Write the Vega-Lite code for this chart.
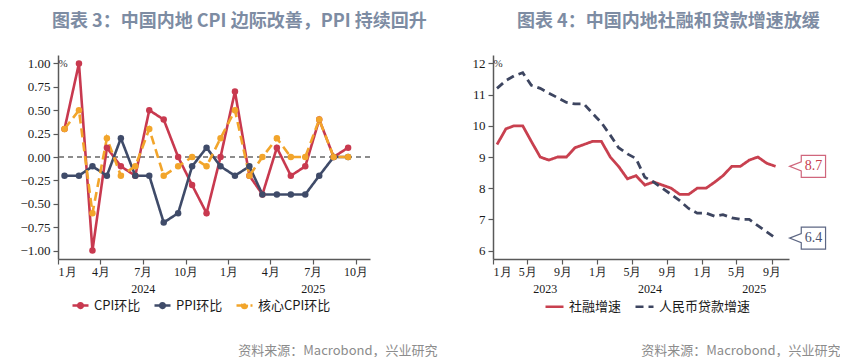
{
  "$schema": "https://vega.github.io/schema/vega-lite/v6.json",
  "background": "white",
  "autosize": {"type": "pad"},
  "padding": {"left": 0, "top": 13, "right": 0, "bottom": 0},
  "bounds": "flush",
  "spacing": 123,
  "config": {
    "font": "Noto Sans CJK SC",
    "view": {"stroke": null},
    "axis": {"grid": false, "domainColor": "#595959", "tickColor": "#595959", "domainWidth": 1.5, "tickWidth": 1.2, "labelFont": "Liberation Serif", "labelFontSize": 13, "labelColor": "#1a1a1a", "labelFontWeight": "normal", "labelOverlap": false},
    "title": {"font": "Noto Sans CJK SC", "fontSize": 18, "fontWeight": "bold", "color": "#7D8CA3", "anchor": "start", "frame": "group"},
    "legend": {"labelFont": "Noto Sans CJK SC", "labelFontSize": 13, "labelColor": "#1a1a1a"}
  },
  "resolve": {"scale": {"x": "independent", "y": "independent", "color": "independent", "strokeDash": "independent", "stroke": "independent", "fill": "independent"}},
  "datasets": {
    "left": [
      {"date": "2024-01-15", "series": "CPI环比", "v": 0.3},
      {"date": "2024-02-15", "series": "CPI环比", "v": 1.0},
      {"date": "2024-03-15", "series": "CPI环比", "v": -1.0},
      {"date": "2024-04-15", "series": "CPI环比", "v": 0.1},
      {"date": "2024-05-15", "series": "CPI环比", "v": -0.1},
      {"date": "2024-06-15", "series": "CPI环比", "v": -0.2},
      {"date": "2024-07-15", "series": "CPI环比", "v": 0.5},
      {"date": "2024-08-15", "series": "CPI环比", "v": 0.4},
      {"date": "2024-09-15", "series": "CPI环比", "v": 0.0},
      {"date": "2024-10-15", "series": "CPI环比", "v": -0.3},
      {"date": "2024-11-15", "series": "CPI环比", "v": -0.6},
      {"date": "2024-12-15", "series": "CPI环比", "v": 0.0},
      {"date": "2025-01-15", "series": "CPI环比", "v": 0.7},
      {"date": "2025-02-15", "series": "CPI环比", "v": -0.2},
      {"date": "2025-03-15", "series": "CPI环比", "v": -0.4},
      {"date": "2025-04-15", "series": "CPI环比", "v": 0.1},
      {"date": "2025-05-15", "series": "CPI环比", "v": -0.2},
      {"date": "2025-06-15", "series": "CPI环比", "v": -0.1},
      {"date": "2025-07-15", "series": "CPI环比", "v": 0.4},
      {"date": "2025-08-15", "series": "CPI环比", "v": 0.0},
      {"date": "2025-09-15", "series": "CPI环比", "v": 0.1},
      {"date": "2024-01-15", "series": "PPI环比", "v": -0.2},
      {"date": "2024-02-15", "series": "PPI环比", "v": -0.2},
      {"date": "2024-03-15", "series": "PPI环比", "v": -0.1},
      {"date": "2024-04-15", "series": "PPI环比", "v": -0.2},
      {"date": "2024-05-15", "series": "PPI环比", "v": 0.2},
      {"date": "2024-06-15", "series": "PPI环比", "v": -0.2},
      {"date": "2024-07-15", "series": "PPI环比", "v": -0.2},
      {"date": "2024-08-15", "series": "PPI环比", "v": -0.7},
      {"date": "2024-09-15", "series": "PPI环比", "v": -0.6},
      {"date": "2024-10-15", "series": "PPI环比", "v": -0.1},
      {"date": "2024-11-15", "series": "PPI环比", "v": 0.1},
      {"date": "2024-12-15", "series": "PPI环比", "v": -0.1},
      {"date": "2025-01-15", "series": "PPI环比", "v": -0.2},
      {"date": "2025-02-15", "series": "PPI环比", "v": -0.1},
      {"date": "2025-03-15", "series": "PPI环比", "v": -0.4},
      {"date": "2025-04-15", "series": "PPI环比", "v": -0.4},
      {"date": "2025-05-15", "series": "PPI环比", "v": -0.4},
      {"date": "2025-06-15", "series": "PPI环比", "v": -0.4},
      {"date": "2025-07-15", "series": "PPI环比", "v": -0.2},
      {"date": "2025-08-15", "series": "PPI环比", "v": 0.0},
      {"date": "2025-09-15", "series": "PPI环比", "v": 0.0},
      {"date": "2024-01-15", "series": "核心CPI环比", "v": 0.3},
      {"date": "2024-02-15", "series": "核心CPI环比", "v": 0.5},
      {"date": "2024-03-15", "series": "核心CPI环比", "v": -0.6},
      {"date": "2024-04-15", "series": "核心CPI环比", "v": 0.2},
      {"date": "2024-05-15", "series": "核心CPI环比", "v": -0.2},
      {"date": "2024-06-15", "series": "核心CPI环比", "v": -0.1},
      {"date": "2024-07-15", "series": "核心CPI环比", "v": 0.3},
      {"date": "2024-08-15", "series": "核心CPI环比", "v": -0.2},
      {"date": "2024-09-15", "series": "核心CPI环比", "v": -0.1},
      {"date": "2024-10-15", "series": "核心CPI环比", "v": 0.0},
      {"date": "2024-11-15", "series": "核心CPI环比", "v": -0.1},
      {"date": "2024-12-15", "series": "核心CPI环比", "v": 0.2},
      {"date": "2025-01-15", "series": "核心CPI环比", "v": 0.5},
      {"date": "2025-02-15", "series": "核心CPI环比", "v": -0.2},
      {"date": "2025-03-15", "series": "核心CPI环比", "v": 0.0},
      {"date": "2025-04-15", "series": "核心CPI环比", "v": 0.2},
      {"date": "2025-05-15", "series": "核心CPI环比", "v": 0.0},
      {"date": "2025-06-15", "series": "核心CPI环比", "v": 0.0},
      {"date": "2025-07-15", "series": "核心CPI环比", "v": 0.4},
      {"date": "2025-08-15", "series": "核心CPI环比", "v": 0.0},
      {"date": "2025-09-15", "series": "核心CPI环比", "v": 0.0}
    ],
    "right": [
      {"date": "2023-01-15", "series": "社融增速", "v": 9.4},
      {"date": "2023-02-15", "series": "社融增速", "v": 9.9},
      {"date": "2023-03-15", "series": "社融增速", "v": 10.0},
      {"date": "2023-04-15", "series": "社融增速", "v": 10.0},
      {"date": "2023-05-15", "series": "社融增速", "v": 9.5},
      {"date": "2023-06-15", "series": "社融增速", "v": 9.0},
      {"date": "2023-07-15", "series": "社融增速", "v": 8.9},
      {"date": "2023-08-15", "series": "社融增速", "v": 9.0},
      {"date": "2023-09-15", "series": "社融增速", "v": 9.0},
      {"date": "2023-10-15", "series": "社融增速", "v": 9.3},
      {"date": "2023-11-15", "series": "社融增速", "v": 9.4},
      {"date": "2023-12-15", "series": "社融增速", "v": 9.5},
      {"date": "2024-01-15", "series": "社融增速", "v": 9.5},
      {"date": "2024-02-15", "series": "社融增速", "v": 9.0},
      {"date": "2024-03-15", "series": "社融增速", "v": 8.7},
      {"date": "2024-04-15", "series": "社融增速", "v": 8.3},
      {"date": "2024-05-15", "series": "社融增速", "v": 8.4},
      {"date": "2024-06-15", "series": "社融增速", "v": 8.1},
      {"date": "2024-07-15", "series": "社融增速", "v": 8.2},
      {"date": "2024-08-15", "series": "社融增速", "v": 8.1},
      {"date": "2024-09-15", "series": "社融增速", "v": 8.0},
      {"date": "2024-10-15", "series": "社融增速", "v": 7.8},
      {"date": "2024-11-15", "series": "社融增速", "v": 7.8},
      {"date": "2024-12-15", "series": "社融增速", "v": 8.0},
      {"date": "2025-01-15", "series": "社融增速", "v": 8.0},
      {"date": "2025-02-15", "series": "社融增速", "v": 8.2},
      {"date": "2025-03-15", "series": "社融增速", "v": 8.4},
      {"date": "2025-04-15", "series": "社融增速", "v": 8.7},
      {"date": "2025-05-15", "series": "社融增速", "v": 8.7},
      {"date": "2025-06-15", "series": "社融增速", "v": 8.9},
      {"date": "2025-07-15", "series": "社融增速", "v": 9.0},
      {"date": "2025-08-15", "series": "社融增速", "v": 8.8},
      {"date": "2025-09-15", "series": "社融增速", "v": 8.7},
      {"date": "2023-01-15", "series": "人民币贷款增速", "v": 11.2},
      {"date": "2023-02-15", "series": "人民币贷款增速", "v": 11.45},
      {"date": "2023-03-15", "series": "人民币贷款增速", "v": 11.6},
      {"date": "2023-04-15", "series": "人民币贷款增速", "v": 11.7},
      {"date": "2023-05-15", "series": "人民币贷款增速", "v": 11.3},
      {"date": "2023-06-15", "series": "人民币贷款增速", "v": 11.2},
      {"date": "2023-07-15", "series": "人民币贷款增速", "v": 11.05},
      {"date": "2023-08-15", "series": "人民币贷款增速", "v": 10.9},
      {"date": "2023-09-15", "series": "人民币贷款增速", "v": 10.75},
      {"date": "2023-10-15", "series": "人民币贷款增速", "v": 10.7},
      {"date": "2023-11-15", "series": "人民币贷款增速", "v": 10.7},
      {"date": "2023-12-15", "series": "人民币贷款增速", "v": 10.4},
      {"date": "2024-01-15", "series": "人民币贷款增速", "v": 10.1},
      {"date": "2024-02-15", "series": "人民币贷款增速", "v": 9.7},
      {"date": "2024-03-15", "series": "人民币贷款增速", "v": 9.3},
      {"date": "2024-04-15", "series": "人民币贷款增速", "v": 9.1},
      {"date": "2024-05-15", "series": "人民币贷款增速", "v": 8.95},
      {"date": "2024-06-15", "series": "人民币贷款增速", "v": 8.35},
      {"date": "2024-07-15", "series": "人民币贷款增速", "v": 8.2},
      {"date": "2024-08-15", "series": "人民币贷款增速", "v": 8.0},
      {"date": "2024-09-15", "series": "人民币贷款增速", "v": 7.8},
      {"date": "2024-10-15", "series": "人民币贷款增速", "v": 7.6},
      {"date": "2024-11-15", "series": "人民币贷款增速", "v": 7.35},
      {"date": "2024-12-15", "series": "人民币贷款增速", "v": 7.2},
      {"date": "2025-01-15", "series": "人民币贷款增速", "v": 7.2},
      {"date": "2025-02-15", "series": "人民币贷款增速", "v": 7.1},
      {"date": "2025-03-15", "series": "人民币贷款增速", "v": 7.15},
      {"date": "2025-04-15", "series": "人民币贷款增速", "v": 7.05},
      {"date": "2025-05-15", "series": "人民币贷款增速", "v": 7.0},
      {"date": "2025-06-15", "series": "人民币贷款增速", "v": 7.0},
      {"date": "2025-07-15", "series": "人民币贷款增速", "v": 6.8},
      {"date": "2025-08-15", "series": "人民币贷款增速", "v": 6.6},
      {"date": "2025-09-15", "series": "人民币贷款增速", "v": 6.4}
    ],
    "rightLast": [
      {"date": "2025-09-15", "series": "社融增速", "v": 8.7, "lab": "8.7"},
      {"date": "2025-09-15", "series": "人民币贷款增速", "v": 6.4, "lab": "6.4"}
    ]
  },
  "hconcat": [
    {
      "width": 312,
      "height": 204,
      "title": {"text": "图表 3：中国内地 CPI 边际改善，PPI 持续回升", "dx": -6, "offset": 24},
      "data": {"name": "left"},
      "resolve": {"axis": {"x": "independent"}},
      "layer": [
        {
          "mark": {"type": "rule", "color": "#8C8C8C", "strokeDash": [5, 4], "strokeWidth": 1.2},
          "encoding": {"y": {"datum": 0, "type": "quantitative",
              "scale": {"domain": [-1.09, 1.09], "nice": false, "zero": false},
              "axis": {"values": [-1, -0.75, -0.5, -0.25, 0, 0.25, 0.5, 0.75, 1], "format": ".2f", "tickSize": 5, "labelPadding": 3, "labelOverlap": false, "minExtent": 58, "maxExtent": 58,
                "title": "%", "titleAngle": 0, "titleX": 0, "titleY": 8, "titleAlign": "left", "titleBaseline": "middle", "titleFont": "Liberation Serif", "titleFontSize": 11, "titleFontWeight": "normal", "titleColor": "#333333"}}}
        },
        {
          "mark": {"type": "line", "strokeWidth": 2.6},
          "encoding": {
            "x": {"field": "date", "type": "temporal",
              "scale": {"domain": [{"year": 2024, "month": 1, "date": 1}, {"year": 2025, "month": 11, "date": 1}]},
              "axis": {"orient": "bottom", "title": null, "format": "%-m月", "labelFontSize": 12, "tickSize": 5, "labelPadding": 2,
                "values": [{"year": 2024, "month": 1, "date": 1}, {"year": 2024, "month": 4, "date": 1}, {"year": 2024, "month": 7, "date": 1}, {"year": 2024, "month": 10, "date": 1}, {"year": 2025, "month": 1, "date": 1}, {"year": 2025, "month": 4, "date": 1}, {"year": 2025, "month": 7, "date": 1}, {"year": 2025, "month": 10, "date": 1}]}},
            "y": {"field": "v", "type": "quantitative",
              "scale": {"domain": [-1.09, 1.09], "nice": false, "zero": false},
              "axis": {"values": [-1, -0.75, -0.5, -0.25, 0, 0.25, 0.5, 0.75, 1], "format": ".2f", "tickSize": 5, "labelPadding": 3, "labelOverlap": false, "minExtent": 58, "maxExtent": 58,
                "title": "%", "titleAngle": 0, "titleX": 0, "titleY": 8, "titleAlign": "left", "titleBaseline": "middle", "titleFont": "Liberation Serif", "titleFontSize": 11, "titleFontWeight": "normal", "titleColor": "#333333"}},
            "color": {"field": "series", "type": "nominal",
              "scale": {"domain": ["CPI环比", "PPI环比", "核心CPI环比"], "range": ["#C8394F", "#3F4B69", "#F2A52B"]},
              "legend": {"orient": "none", "legendX": 13, "legendY": 241, "direction": "horizontal", "title": null,
                "symbolType": "M-1,0L1,0M0.3,0A0.3,0.3,0,1,1,-0.3,0A0.3,0.3,0,1,1,0.3,0Z", "symbolSize": 256, "symbolStrokeWidth": 2.5, "columnPadding": 8, "labelOffset": 4,
                "encode": {"symbols": {"update": {
                  "fill": {"signal": "datum.value == 'CPI环比' ? '#C8394F' : datum.value == 'PPI环比' ? '#3F4B69' : '#F2A52B'"},
                  "stroke": {"signal": "datum.value == 'CPI环比' ? '#C8394F' : datum.value == 'PPI环比' ? '#3F4B69' : '#F2A52B'"},
                  "strokeDash": {"value": [1, 0]},
                  "opacity": {"value": 1}}}}}},
            "strokeDash": {"field": "series", "type": "nominal",
              "scale": {"domain": ["CPI环比", "PPI环比", "核心CPI环比"], "range": [[1, 0], [1, 0], [9, 5]]},
              "legend": null}
          }
        },
        {
          "mark": {"type": "point", "filled": true, "size": 42, "opacity": 1},
          "encoding": {
            "x": {"field": "date", "type": "temporal",
              "axis": {"orient": "bottom", "format": "%Y", "domain": false, "ticks": false, "labelPadding": 24, "labelFontSize": 12,
                "values": [{"year": 2024, "month": 7, "date": 1}, {"year": 2025, "month": 7, "date": 1}],
                "title": "资料来源：Macrobond，兴业研究", "titleX": 379, "titleY": 91, "titleAlign": "right", "titleBaseline": "middle", "titleAngle": 0,
                "titleFont": "Noto Sans CJK SC", "titleFontSize": 13, "titleFontWeight": "normal", "titleColor": "#8C8C8C"}},
            "y": {"field": "v", "type": "quantitative",
              "scale": {"domain": [-1.09, 1.09], "nice": false, "zero": false},
              "axis": {"values": [-1, -0.75, -0.5, -0.25, 0, 0.25, 0.5, 0.75, 1], "format": ".2f", "tickSize": 5, "labelPadding": 3, "labelOverlap": false, "minExtent": 58, "maxExtent": 58,
                "title": "%", "titleAngle": 0, "titleX": 0, "titleY": 8, "titleAlign": "left", "titleBaseline": "middle", "titleFont": "Liberation Serif", "titleFontSize": 11, "titleFontWeight": "normal", "titleColor": "#333333"}},
            "color": {"field": "series", "type": "nominal", "legend": null}
          }
        }
      ]
    },
    {
      "width": 296,
      "height": 204,
      "title": {"text": "图表 4：中国内地社融和贷款增速放缓", "dx": 24, "offset": 24},
      "resolve": {"axis": {"x": "independent"}},
      "encoding": {
        "y": {"field": "v", "type": "quantitative",
          "scale": {"domain": [5.73, 12.27], "nice": false, "zero": false},
          "axis": {"values": [6, 7, 8, 9, 10, 11, 12], "format": "d", "tickSize": 5, "labelPadding": 3, "labelOverlap": false,
            "title": "%", "titleAngle": 0, "titleX": 0, "titleY": 8, "titleAlign": "left", "titleBaseline": "middle", "titleFont": "Liberation Serif", "titleFontSize": 11, "titleFontWeight": "normal", "titleColor": "#333333"}}
      },
      "layer": [
        {
          "data": {"name": "right"},
          "mark": {"type": "line", "strokeWidth": 2.8},
          "encoding": {
            "x": {"field": "date", "type": "temporal",
              "scale": {"domain": [{"year": 2023, "month": 1, "date": 1}, {"year": 2025, "month": 11, "date": 1}]},
              "axis": {"orient": "bottom", "title": null, "format": "%-m月", "labelFontSize": 12, "tickSize": 5, "labelPadding": 2,
                "values": [{"year": 2023, "month": 1, "date": 1}, {"year": 2023, "month": 5, "date": 1}, {"year": 2023, "month": 9, "date": 1}, {"year": 2024, "month": 1, "date": 1}, {"year": 2024, "month": 5, "date": 1}, {"year": 2024, "month": 9, "date": 1}, {"year": 2025, "month": 1, "date": 1}, {"year": 2025, "month": 5, "date": 1}, {"year": 2025, "month": 9, "date": 1}]}},
            "color": {"field": "series", "type": "nominal",
              "scale": {"domain": ["社融增速", "人民币贷款增速"], "range": ["#C8404F", "#3D4560"]},
              "legend": {"orient": "none", "legendX": 51, "legendY": 241, "direction": "horizontal", "title": null, "symbolType": "stroke", "symbolSize": 324, "symbolStrokeWidth": 2.6, "columnPadding": 8, "labelOffset": 4}},
            "strokeDash": {"field": "series", "type": "nominal",
              "scale": {"domain": ["社融增速", "人民币贷款增速"], "range": [[1, 0], [8, 5]]},
              "legend": {"orient": "none", "legendX": 51, "legendY": 241, "direction": "horizontal", "title": null, "symbolType": "stroke", "symbolSize": 324, "symbolStrokeWidth": 2.6, "columnPadding": 8, "labelOffset": 4}}
          }
        },
        {
          "data": {"name": "rightLast"},
          "mark": {"type": "point", "shape": "M-1,0L-0.35,-0.25L-0.35,-0.61L1,-0.61L1,0.61L-0.35,0.61L-0.35,0.25Z", "size": 1296, "filled": true, "fill": "white", "strokeWidth": 1.2, "opacity": 1, "xOffset": 32},
          "encoding": {
            "x": {"field": "date", "type": "temporal",
              "axis": {"orient": "bottom", "format": "%Y", "domain": false, "ticks": false, "labelPadding": 24, "labelFontSize": 12,
                "values": [{"year": 2023, "month": 7, "date": 1}, {"year": 2024, "month": 7, "date": 1}, {"year": 2025, "month": 7, "date": 1}],
                "title": "资料来源：Macrobond，兴业研究", "titleX": 347, "titleY": 91, "titleAlign": "right", "titleBaseline": "middle", "titleAngle": 0,
                "titleFont": "Noto Sans CJK SC", "titleFontSize": 13, "titleFontWeight": "normal", "titleColor": "#8C8C8C"}},
            "stroke": {"field": "series", "type": "nominal", "scale": {"domain": ["社融增速", "人民币贷款增速"], "range": ["#D0667C", "#5D6784"]}, "legend": null}
          }
        },
        {
          "data": {"name": "rightLast"},
          "mark": {"type": "text", "font": "Liberation Serif", "fontSize": 14, "align": "center", "baseline": "middle", "xOffset": 38},
          "encoding": {
            "x": {"field": "date", "type": "temporal", "axis": null},
            "text": {"field": "lab"},
            "fill": {"field": "series", "type": "nominal", "scale": {"domain": ["社融增速", "人民币贷款增速"], "range": ["#C8404F", "#4A5270"]}, "legend": null}
          }
        }
      ]
    }
  ]
}
